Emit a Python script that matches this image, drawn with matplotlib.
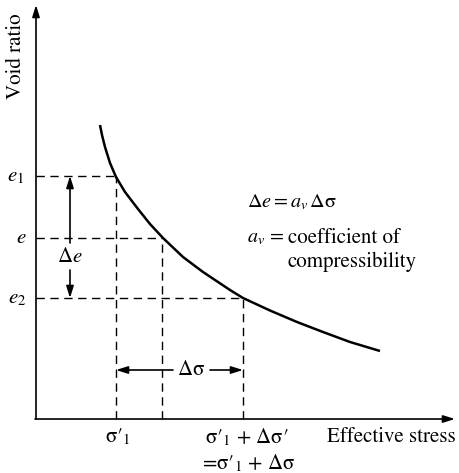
import matplotlib.pyplot as plt

plt.rcParams['font.family'] = ['STIXGeneral', 'DejaVu Serif']
plt.rcParams['mathtext.fontset'] = 'stix'

# compression curve, arbitrary units
stress = [64, 66, 69, 74, 80, 89, 102, 114, 127, 147, 167, 194, 207, 234, 261, 287, 314, 344]
void_ratio = [294, 284, 272, 256, 242, 227, 210, 195, 181, 162, 147, 129, 121, 108.5, 97, 87, 77, 68]

# marked states on the curve
sig1, sig_mid, sig2 = 80, 126, 207
e1, e_mid, e2 = 243, 181, 121

fig = plt.figure(figsize=(4.59, 4.73), dpi=100)
ax = fig.add_axes([0, 0, 1, 1])
ax.set_xlim(-36, 423)
ax.set_ylim(-54, 419)
ax.axis('off')

fs = 15
head = dict(arrowstyle='-|>,head_length=0.7,head_width=0.22', color='k',
            lw=1.2, shrinkA=0, shrinkB=0)

# axes with arrow heads
ax.annotate('', xy=(0, 414), xytext=(0, 0), arrowprops=head)
ax.annotate('', xy=(419, 0), xytext=(-1, 0), arrowprops=head)

ax.plot(stress, void_ratio, color='k', lw=1.8, solid_capstyle='butt',
        solid_joinstyle='round')

# dashed guide lines
dash = dict(color='k', lw=1.0, dashes=(6, 4))
for s, e in [(sig1, e1), (sig_mid, e_mid), (sig2, e2)]:
    ax.plot([0, s], [e, e], **dash)
    ax.plot([s, s], [0, e], **dash)

# delta e
xa = 34
ax.annotate('', xy=(xa, e1), xytext=(xa, 176), arrowprops=head)
ax.annotate('', xy=(xa, e2), xytext=(xa, 149), arrowprops=head)
ax.text(xa, 162, r'$\Delta e$', fontsize=fs, ha='center', va='center')

# delta sigma
ya = 49
ax.annotate('', xy=(sig1, ya), xytext=(137, ya), arrowprops=head)
ax.annotate('', xy=(sig2, ya), xytext=(174, ya), arrowprops=head)
ax.text(155, ya, 'Δσ', fontsize=fs, ha='center', va='center')

# void ratio labels
ax.text(-20, e1, r'$e_1$', fontsize=fs, ha='center', va='center')
ax.text(-15, e_mid, r'$e$', fontsize=fs, ha='center', va='center')
ax.text(-19, e2, r'$e_2$', fontsize=fs, ha='center', va='center')

# stress labels
ax.text(82, -18, 'σ′$_1$', fontsize=fs, ha='center', va='center')
ax.text(211, -18, 'σ′$_1$ + Δσ′', fontsize=fs, ha='center', va='center')
ax.text(212, -44, '=σ′$_1$ + Δσ', fontsize=fs, ha='center', va='center')
ax.text(291, -18, 'Effective stress', fontsize=fs, ha='left', va='center')
ax.text(-20, 363, 'Void ratio', fontsize=fs, ha='center', va='center',
        rotation=90)

# definition
ax.text(211, 217, r'$\Delta e = a_v\,$Δσ', fontsize=14.5, ha='left', va='center')
ax.text(211, 181, r'$a_v$ =', fontsize=14.5, ha='left', va='center')
ax.text(252, 181, 'coefficient of', fontsize=fs, ha='left', va='center')
ax.text(252, 157, 'compressibility', fontsize=fs, ha='left', va='center')

fig.savefig('out.png', dpi=100)
